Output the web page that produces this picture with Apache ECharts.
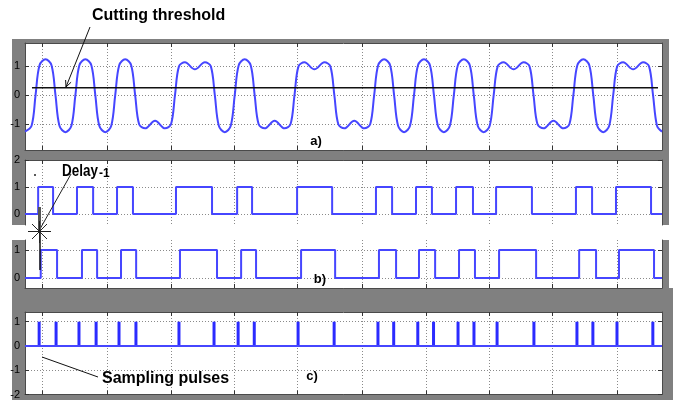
<!DOCTYPE html>
<html>
<head>
<meta charset="utf-8">
<script src="https://cdn.jsdelivr.net/npm/echarts@6/dist/echarts.min.js"></script>
<style>
  html, body { margin: 0; padding: 0; background: #fff; }
  #chart { width: 673px; height: 400px; }
</style>
</head>
<body>
<div id="chart"></div>
<script>
// time is in bit periods (bit boundaries on integers)
const tMin = -0.53;
const tMax = 31.45;
const gridT = [0.33, 3.59, 6.80, 9.96, 13.13, 16.39, 19.60, 22.77, 25.93, 29.19];

// a) received signal
const waveA = [
  [-0.53, -1.25], [-0.2, -1.05], [0, 0],
  [0.2, 1.02], [0.5, 1.22], [0.8, 1.02], [1, 0],
  [1.2, -1.05], [1.5, -1.27], [1.8, -1.05], [2, 0],
  [2.2, 1.02], [2.5, 1.22], [2.8, 1.02], [3, 0],
  [3.2, -1.05], [3.5, -1.27], [3.8, -1.05], [4, 0],
  [4.2, 1.02], [4.5, 1.22], [4.8, 1.02], [5, 0],
  [5.2, -1.0], [5.5, -1.14], [6, -0.88], [6.5, -1.14], [6.8, -1.0], [7, 0],
  [7.2, 0.98], [7.5, 1.12], [8, 0.88], [8.5, 1.12], [8.8, 0.98], [9, 0],
  [9.2, -1.05], [9.5, -1.27], [9.8, -1.05], [10, 0],
  [10.2, 1.02], [10.5, 1.22], [10.8, 1.02], [11, 0],
  [11.2, -1.0], [11.5, -1.14], [12, -0.88], [12.5, -1.14], [12.8, -1.0], [13, 0],
  [13.2, 0.98], [13.5, 1.12], [14, 0.88], [14.5, 1.12], [14.8, 0.98], [15, 0],
  [15.2, -1.0], [15.5, -1.14], [16, -0.88], [16.5, -1.14], [16.8, -1.0], [17, 0],
  [17.2, 1.02], [17.5, 1.22], [17.8, 1.02], [18, 0],
  [18.2, -1.05], [18.5, -1.27], [18.8, -1.05], [19, 0],
  [19.2, 1.02], [19.5, 1.22], [19.8, 1.02], [20, 0],
  [20.2, -1.05], [20.5, -1.27], [20.8, -1.05], [21, 0],
  [21.2, 1.02], [21.5, 1.22], [21.8, 1.02], [22, 0],
  [22.2, -1.05], [22.5, -1.27], [22.8, -1.05], [23, 0],
  [23.2, 0.98], [23.5, 1.12], [24, 0.88], [24.5, 1.12], [24.8, 0.98], [25, 0],
  [25.2, -1.0], [25.5, -1.14], [26, -0.88], [26.5, -1.14], [26.8, -1.0], [27, 0],
  [27.2, 1.02], [27.5, 1.22], [27.8, 1.02], [28, 0],
  [28.2, -1.05], [28.5, -1.27], [28.8, -1.05], [29, 0],
  [29.2, 0.98], [29.5, 1.12], [30, 0.88], [30.5, 1.12], [30.8, 0.98], [31, 0],
  [31.2, -1.05], [31.45, -1.25]
];
const thresholdLevel = 0.25;
const thresholdSpan = [-0.18, 31.25];

// b) sliced signal and its one-step delayed copy: switching instants
const edgesB = [0.13, 0.88, 2.08, 2.89, 4.09, 4.89, 7.05, 8.86, 10.12, 10.87, 13.13, 14.89,
  17.09, 17.90, 19.10, 19.90, 21.11, 21.96, 23.12, 24.92, 27.13, 27.94, 29.14, 30.90];
const edgesBDelayed = [0.26, 1.08, 2.33, 3.09, 4.29, 5.05, 7.25, 9.11, 10.32, 11.07, 13.33, 15.04,
  17.24, 18.10, 19.25, 20.06, 21.26, 22.06, 23.27, 25.13, 27.29, 28.14, 29.29, 31.05];

// c) sampling pulse instants, height 1
const pulsesC = [0.18, 1.03, 2.18, 3.04, 4.19, 5.04, 7.20, 8.96, 10.17, 10.98, 13.18, 14.99,
  17.19, 17.98, 19.19, 19.98, 21.21, 22.01, 23.17, 25.02, 27.18, 27.98, 29.19, 30.99];

const ticksA = [-1, 0, 1];
const ticksB = [0, 1, 2];
const ticksBDelayed = [0, 1];
const ticksC = [-2, -1, 0, 1];

function square(edges) {
  const pts = [[tMin, 0]];
  let level = 0;
  edges.forEach(t => { pts.push([t, level]); level = 1 - level; pts.push([t, level]); });
  pts.push([tMax, level]);
  return pts;
}

const panels = [
  { top: 43, height: 107, min: -1.88, max: 1.78, ticks: ticksA, bottom: true, topSide: true },
  { top: 160, height: 65, min: -0.41, max: 2, ticks: ticksB, bottom: false, topSide: true },
  { top: 240, height: 48, min: -0.36, max: 1.36, ticks: ticksBDelayed, bottom: true, topSide: false },
  { top: 312, height: 85, min: -2, max: 1.4, ticks: ticksC, bottom: true, topSide: true },
];

const dotted = { color: '#8a8a8a', width: 1, type: [1, 2] };
const frameLine = { color: '#4a4a4a', width: 1 };
const tickLine = { color: '#333', width: 1 };
const font = 'Liberation Sans, Arial, sans-serif';

const grid = [], xAxis = [], yAxis = [];
panels.forEach((p, i) => {
  grid.push({ left: 25, right: 11, top: p.top, height: p.height, show: true, backgroundColor: '#fff', borderWidth: 0 });
  ['bottom', 'top'].forEach(pos => {
    const on = pos === 'bottom' ? p.bottom : p.topSide;
    xAxis.push({
      type: 'value', gridIndex: i, position: pos, min: tMin, max: tMax,
      axisLine: { show: on, onZero: false, lineStyle: frameLine },
      axisTick: { show: on, inside: true, length: 4, customValues: gridT, lineStyle: tickLine },
      axisLabel: { show: false, customValues: gridT },
      splitLine: { show: pos === 'bottom', lineStyle: dotted },
    });
  });
  ['left', 'right'].forEach(pos => {
    yAxis.push({
      type: 'value', gridIndex: i, position: pos, min: p.min, max: p.max,
      axisLine: { show: true, onZero: false, lineStyle: frameLine },
      axisTick: { show: true, inside: true, length: 4, customValues: p.ticks, lineStyle: tickLine },
      axisLabel: { show: pos === 'left', customValues: p.ticks, margin: 5, fontSize: 11, color: '#000', fontFamily: font },
      splitLine: { show: pos === 'left', lineStyle: dotted },
    });
  });
});

const blue = '#4646ff';
const pulseBlue = '#2b2bff';
const option = {
  animation: false,
  backgroundColor: '#fff',
  grid, xAxis, yAxis,
  series: [
    { type: 'line', xAxisIndex: 0, yAxisIndex: 0, data: waveA, smooth: 0.35, symbol: 'none',
      lineStyle: { color: blue, width: 2 }, z: 3 },
    { type: 'line', xAxisIndex: 0, yAxisIndex: 0, symbol: 'none',
      data: [[thresholdSpan[0], thresholdLevel], [thresholdSpan[1], thresholdLevel]],
      lineStyle: { color: '#111', width: 1.5 }, z: 4 },
    { type: 'line', xAxisIndex: 2, yAxisIndex: 2, data: square(edgesB), symbol: 'none',
      lineStyle: { color: blue, width: 2 } },
    { type: 'line', xAxisIndex: 4, yAxisIndex: 4, data: square(edgesBDelayed), symbol: 'none',
      lineStyle: { color: blue, width: 2 } },
    { type: 'line', xAxisIndex: 6, yAxisIndex: 6, data: [[tMin, 0], [tMax, 0]], symbol: 'none',
      lineStyle: { color: blue, width: 2 } },
    { type: 'bar', xAxisIndex: 6, yAxisIndex: 6, data: pulsesC.map(t => [t, 1]), barWidth: 3,
      itemStyle: { color: pulseBlue } },
  ],
  graphic: [
    // scope frame
    { type: 'rect', z: -10, silent: true, shape: { x: 12, y: 39, width: 657, height: 361 }, style: { fill: '#808080' } },
    { type: 'rect', z: -10, silent: true, shape: { x: 662, y: 288, width: 11, height: 112 }, style: { fill: '#808080' } },
    { type: 'rect', z: -9, silent: true, shape: { x: 0, y: 225, width: 673, height: 15 }, style: { fill: '#fff' } },
    // annotations
    { type: 'text', z: 100, x: 92, y: 16, style: { text: 'Cutting threshold', font: 'bold 16px ' + font, fill: '#000', textAlign: 'left', textVerticalAlign: 'middle' } },
    { type: 'line', z: 100, shape: { x1: 90, y1: 27, x2: 66, y2: 87 }, style: { stroke: '#111', lineWidth: 1 } },
    { type: 'polyline', z: 100, shape: { points: [[71.1, 82.2], [66, 87], [65.6, 80]] }, style: { stroke: '#111', lineWidth: 1, fill: null } },
    { type: 'text', z: 100, x: 62, y: 172, scaleX: 0.84, style: { text: 'Delay', font: 'bold 16px ' + font, fill: '#000', textAlign: 'left', textVerticalAlign: 'middle' } },
    { type: 'text', z: 100, x: 99, y: 174, style: { text: '-1', font: 'bold 12px ' + font, fill: '#000', textAlign: 'left', textVerticalAlign: 'middle' } },
    { type: 'circle', z: 100, shape: { cx: 35, cy: 175, r: 1 }, style: { fill: '#222' } },
    { type: 'line', z: 100, shape: { x1: 40, y1: 229, x2: 71, y2: 174 }, style: { stroke: '#222', lineWidth: 1 } },
    { type: 'rect', z: 100, shape: { x: 38, y: 207, width: 3, height: 25 }, style: { fill: '#555' } },
    { type: 'line', z: 100, shape: { x1: 40, y1: 232, x2: 40, y2: 270 }, style: { stroke: '#111', lineWidth: 1.5 } },
    { type: 'line', z: 100, shape: { x1: 28, y1: 231.5, x2: 51, y2: 231.5 }, style: { stroke: '#222', lineWidth: 1 } },
    { type: 'line', z: 100, shape: { x1: 39.5, y1: 221, x2: 39.5, y2: 243 }, style: { stroke: '#222', lineWidth: 1 } },
    { type: 'line', z: 100, shape: { x1: 32, y1: 224, x2: 47, y2: 239 }, style: { stroke: '#222', lineWidth: 1 } },
    { type: 'line', z: 100, shape: { x1: 47, y1: 224, x2: 32, y2: 239 }, style: { stroke: '#222', lineWidth: 1 } },
    { type: 'text', z: 100, x: 102, y: 379, style: { text: 'Sampling pulses', font: 'bold 16px ' + font, fill: '#000', textAlign: 'left', textVerticalAlign: 'middle' } },
    { type: 'line', z: 100, shape: { x1: 42, y1: 357, x2: 98, y2: 377 }, style: { stroke: '#111', lineWidth: 1 } },
    { type: 'text', z: 100, x: 316, y: 141, style: { text: 'a)', font: 'bold 13px ' + font, fill: '#000', textAlign: 'center', textVerticalAlign: 'middle' } },
    { type: 'text', z: 100, x: 320, y: 279, style: { text: 'b)', font: 'bold 13px ' + font, fill: '#000', textAlign: 'center', textVerticalAlign: 'middle' } },
    { type: 'text', z: 100, x: 312, y: 376, style: { text: 'c)', font: 'bold 13px ' + font, fill: '#000', textAlign: 'center', textVerticalAlign: 'middle' } },
  ],
};

const chart = echarts.init(document.getElementById('chart'));
chart.setOption(option);
window.addEventListener('resize', () => chart.resize());
</script>
</body>
</html>
